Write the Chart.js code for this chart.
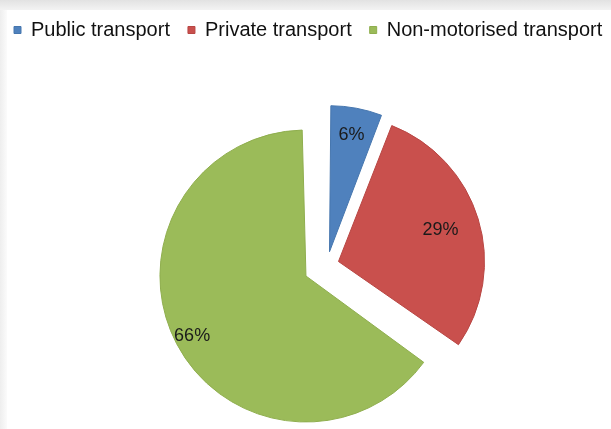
<!DOCTYPE html>
<html>
<head>
<meta charset="utf-8">
<script src="https://cdn.jsdelivr.net/npm/chart.js@4.4.1/dist/chart.umd.min.js"></script>
<style>
  html, body { margin: 0; padding: 0; background: #ffffff; overflow: hidden; }
  #frame { position: relative; width: 611px; height: 429px; overflow: hidden; }
  #topband { position: absolute; left: 0; top: 0; width: 611px; height: 10px;
             background: linear-gradient(#e2e2e2, #f3f3f3); }
  #leftband { position: absolute; left: 0; top: 10px; width: 7px; height: 419px;
              background: linear-gradient(90deg, #eeeeee, #fbfbfb); }
  /* the drawing surface runs a little past the frame so the pie sits low and right */
  #chart { position: absolute; left: -4px; top: 0; }
</style>
</head>
<body>
<div id="frame">
  <div id="topband"></div>
  <div id="leftband"></div>
  <canvas id="chart" width="662" height="480"></canvas>
</div>
<script>
// Modal split of trips
const categories = ['Public transport', 'Private transport', 'Non-motorised transport'];
const shares = [6, 29, 66];
const percentLabels = ['6%', '29%', '66%'];

const sliceColors = ['#4F81BD', '#C9504D', '#9BBB59'];
const sliceEdges  = ['#4676AE', '#B84643', '#8FAE4E'];

// Chart.js moves a slice by offset / 4 along its bisector
const explode = [54, 48, 95];
const PIE_RADIUS = 146;

// Keep every exploded slice at the same radius (Chart.js grows slices it offsets)
const evenRadius = {
  id: 'evenRadius',
  afterDatasetUpdate(chart, args) {
    args.meta.data.forEach((arc) => {
      const shift = (arc.options.offset || 0) / 4;
      const sweep = arc.endAngle - arc.startAngle;
      const fix = 1 - Math.sin(Math.min(Math.PI, sweep));
      arc.outerRadius = PIE_RADIUS - shift * fix;
    });
  }
};

// Percentage text inside each slice
const sliceLabels = {
  id: 'sliceLabels',
  afterDatasetsDraw(chart, args, opts) {
    const meta = chart.getDatasetMeta(0);
    const ctx = chart.ctx;
    ctx.save();
    ctx.font = opts.font;
    ctx.fillStyle = opts.color;
    ctx.textAlign = 'center';
    ctx.textBaseline = 'middle';
    meta.data.forEach((arc, i) => {
      const p = arc.getProps(['x', 'y', 'startAngle', 'endAngle']);
      const mid = (p.startAngle + p.endAngle) / 2;
      const r = (arc.options.offset || 0) / 4 + opts.depth[i] * PIE_RADIUS;
      ctx.fillText(percentLabels[i], p.x + Math.cos(mid) * r, p.y + Math.sin(mid) * r);
    });
    ctx.restore();
  }
};

new Chart(document.getElementById('chart'), {
  type: 'pie',
  data: {
    labels: categories,
    datasets: [{
      data: shares,
      backgroundColor: sliceColors,
      borderColor: sliceEdges,
      borderWidth: 1,
      offset: explode,
      radius: PIE_RADIUS
    }]
  },
  options: {
    responsive: false,
    animation: false,
    events: [],
    layout: { padding: { top: 2, left: 0, right: 0, bottom: 0 } },
    plugins: {
      legend: {
        position: 'top',
        align: 'start',
        labels: {
          boxWidth: 7,
          boxHeight: 7,
          padding: 18,
          color: '#111111',
          font: { family: '"Liberation Sans", Arial, sans-serif', size: 20 }
        }
      },
      tooltip: { enabled: false },
      sliceLabels: {
        depth: [0.81, 0.73, 0.88],
        font: '18px "Liberation Sans", Arial, sans-serif',
        color: '#1a1a1a'
      }
    }
  },
  plugins: [evenRadius, sliceLabels]
});
</script>
</body>
</html>
